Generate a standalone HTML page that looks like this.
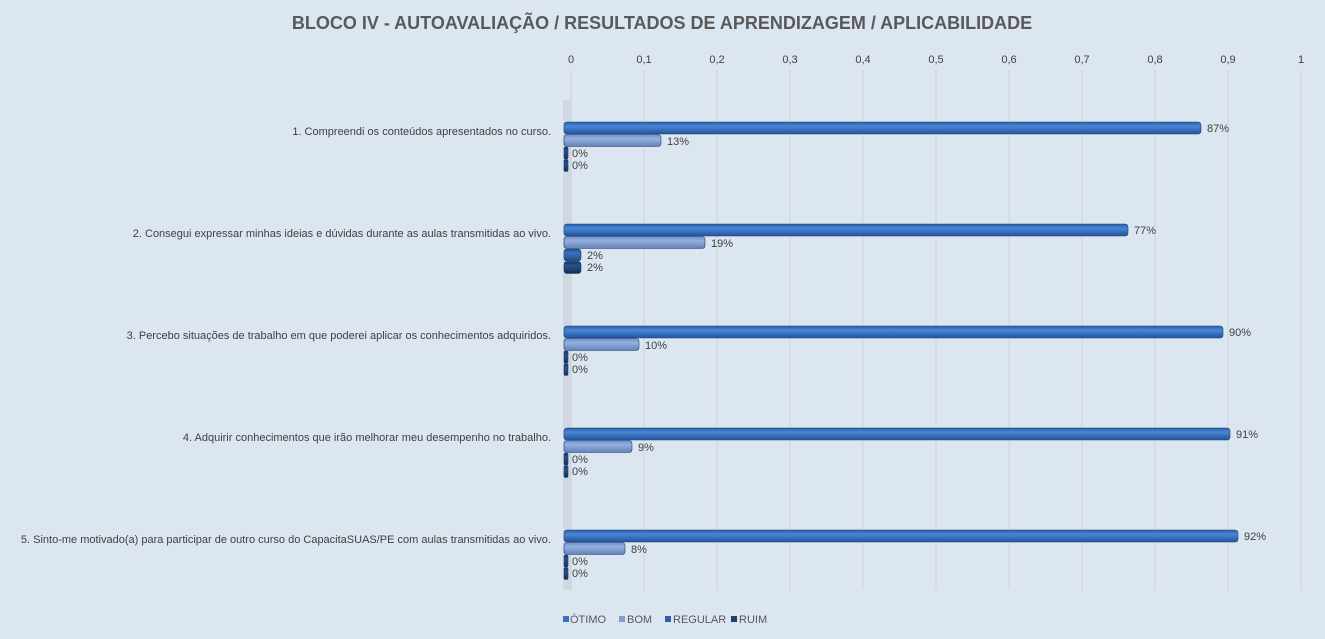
<!DOCTYPE html>
<html><head><meta charset="utf-8"><style>
html,body{margin:0;padding:0;background:#dce6f1;}
svg{display:block;font-family:"Liberation Sans",sans-serif;}
</style></head><body>
<svg width="1325" height="639" viewBox="0 0 1325 639">
<defs>
<linearGradient id="g1" x1="0" y1="0" x2="0" y2="1"><stop offset="0" stop-color="#2a5ea8"/><stop offset=".35" stop-color="#4a86d6"/><stop offset="1" stop-color="#24549a"/></linearGradient>
<linearGradient id="g2" x1="0" y1="0" x2="0" y2="1"><stop offset="0" stop-color="#6f8fc6"/><stop offset=".35" stop-color="#94b0e0"/><stop offset="1" stop-color="#6583ba"/></linearGradient>
<linearGradient id="g3" x1="0" y1="0" x2="0" y2="1"><stop offset="0" stop-color="#20528f"/><stop offset=".35" stop-color="#3a72c0"/><stop offset="1" stop-color="#1d4a85"/></linearGradient>
<linearGradient id="g4" x1="0" y1="0" x2="0" y2="1"><stop offset="0" stop-color="#16345c"/><stop offset=".35" stop-color="#2a5290"/><stop offset="1" stop-color="#132e52"/></linearGradient>
</defs>
<rect width="1325" height="639" fill="#dce6f1"/>
<text x="662" y="29" text-anchor="middle" font-size="18" font-weight="bold" fill="#595959">BLOCO IV - AUTOAVALIAÇÃO / RESULTADOS  DE APRENDIZAGEM  / APLICABILIDADE</text>
<g stroke="#cfd6df" stroke-width="1.2">
<line x1="571" y1="70" x2="571" y2="590"/><line x1="644" y1="70" x2="644" y2="590"/><line x1="717" y1="70" x2="717" y2="590"/><line x1="790" y1="70" x2="790" y2="590"/><line x1="863" y1="70" x2="863" y2="590"/><line x1="936" y1="70" x2="936" y2="590"/><line x1="1009" y1="70" x2="1009" y2="590"/><line x1="1082" y1="70" x2="1082" y2="590"/><line x1="1155" y1="70" x2="1155" y2="590"/><line x1="1228" y1="70" x2="1228" y2="590"/><line x1="1301" y1="70" x2="1301" y2="590"/>
</g>
<rect x="563" y="100" width="8" height="490" fill="#c9d0d8" opacity=".7"/>
<g font-size="11" fill="#404040" text-anchor="middle">
<text x="571" y="63">0</text><text x="644" y="63">0,1</text><text x="717" y="63">0,2</text><text x="790" y="63">0,3</text><text x="863" y="63">0,4</text><text x="936" y="63">0,5</text><text x="1009" y="63">0,6</text><text x="1082" y="63">0,7</text><text x="1155" y="63">0,8</text><text x="1228" y="63">0,9</text><text x="1301" y="63">1</text>
</g>
<g font-size="11" fill="#404040" text-anchor="end">
<text x="551" y="135">1. Compreendi os conteúdos apresentados no curso.</text>
<text x="551" y="237">2. Consegui expressar minhas ideias e dúvidas durante as aulas transmitidas ao vivo.</text>
<text x="551" y="339">3. Percebo situações de trabalho em que poderei aplicar os conhecimentos adquiridos.</text>
<text x="551" y="441">4. Adquirir conhecimentos que irão melhorar meu desempenho no trabalho.</text>
<text x="551" y="543">5. Sinto-me motivado(a) para participar de outro curso do CapacitaSUAS/PE com aulas transmitidas ao vivo.</text>
</g>
<g stroke="#1e3f6e" stroke-width=".6">
<!-- G1 -->
<rect x="564" y="122" width="637" height="12" rx="3" fill="url(#g1)"/>
<rect x="564" y="134.5" width="97" height="12" rx="3" fill="url(#g2)"/>
<rect x="564" y="147" width="4" height="12" rx="1.5" fill="url(#g4)"/>
<rect x="564" y="159.5" width="4" height="12" rx="1.5" fill="url(#g4)"/>
<!-- G2 -->
<rect x="564" y="224" width="564" height="12" rx="3" fill="url(#g1)"/>
<rect x="564" y="236.5" width="141" height="12" rx="3" fill="url(#g2)"/>
<rect x="564" y="249" width="17" height="12" rx="3" fill="url(#g3)"/>
<rect x="564" y="261.5" width="17" height="12" rx="3" fill="url(#g4)"/>
<!-- G3 -->
<rect x="564" y="326" width="659" height="12" rx="3" fill="url(#g1)"/>
<rect x="564" y="338.5" width="75" height="12" rx="3" fill="url(#g2)"/>
<rect x="564" y="351" width="4" height="12" rx="1.5" fill="url(#g4)"/>
<rect x="564" y="363.5" width="4" height="12" rx="1.5" fill="url(#g4)"/>
<!-- G4 -->
<rect x="564" y="428" width="666" height="12" rx="3" fill="url(#g1)"/>
<rect x="564" y="440.5" width="68" height="12" rx="3" fill="url(#g2)"/>
<rect x="564" y="453" width="4" height="12" rx="1.5" fill="url(#g4)"/>
<rect x="564" y="465.5" width="4" height="12" rx="1.5" fill="url(#g4)"/>
<!-- G5 -->
<rect x="564" y="530" width="674" height="12" rx="3" fill="url(#g1)"/>
<rect x="564" y="542.5" width="61" height="12" rx="3" fill="url(#g2)"/>
<rect x="564" y="555" width="4" height="12" rx="1.5" fill="url(#g4)"/>
<rect x="564" y="567.5" width="4" height="12" rx="1.5" fill="url(#g4)"/>
</g>
<g font-size="11" fill="#404040">
<text x="1207" y="132">87%</text><text x="667" y="145">13%</text><text x="572" y="157">0%</text><text x="572" y="169">0%</text>
<text x="1134" y="234">77%</text><text x="711" y="247">19%</text><text x="587" y="259">2%</text><text x="587" y="271">2%</text>
<text x="1229" y="336">90%</text><text x="645" y="349">10%</text><text x="572" y="361">0%</text><text x="572" y="373">0%</text>
<text x="1236" y="438">91%</text><text x="638" y="451">9%</text><text x="572" y="463">0%</text><text x="572" y="475">0%</text>
<text x="1244" y="540">92%</text><text x="631" y="553">8%</text><text x="572" y="565">0%</text><text x="572" y="577">0%</text>
</g>
<g font-size="11" fill="#595959">
<rect x="563" y="616" width="6" height="6" fill="#3a72c0"/><text x="570" y="623">ÓTIMO</text>
<rect x="619" y="616" width="6" height="6" fill="#7f9fd4"/><text x="627" y="623">BOM</text>
<rect x="665" y="616" width="6" height="6" fill="#2e5fa8"/><text x="673" y="623">REGULAR</text>
<rect x="731" y="616" width="6" height="6" fill="#1f3f6e"/><text x="739" y="623">RUIM</text>
</g>
</svg>
</body></html>
